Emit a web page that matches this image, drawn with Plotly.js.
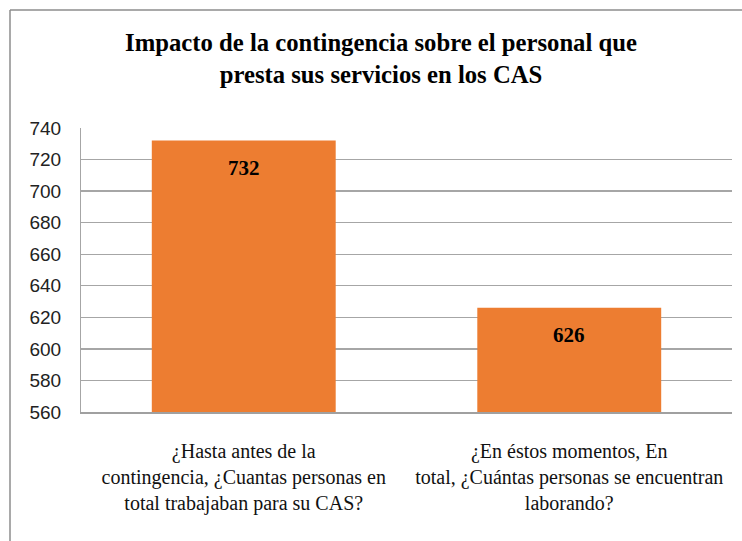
<!DOCTYPE html>
<html>
<head>
<meta charset="utf-8">
<script src="https://cdn.plot.ly/plotly-3.0.1.min.js"></script>
<style>html,body{margin:0;padding:0;background:#fff;}#chart{width:742px;height:541px;}</style>
</head>
<body>
<div id="chart"></div>
<script>
const categories = [
  "¿Hasta antes de la<br>contingencia, ¿Cuantas personas en<br>total trabajaban para su CAS?",
  "¿En éstos momentos, En<br>total, ¿Cuántas personas se encuentran<br>laborando?"
];
const values = [732, 626];
const valueLabels = ["732", "626"];
const chartTitle = "Impacto de la contingencia sobre el personal que<br>presta sus servicios en los CAS";
const yTicks = [560, 580, 600, 620, 640, 660, 680, 700, 720, 740];

const SERIF = "Liberation Serif, Times New Roman, serif";
const SANS = "Liberation Sans, Arial, sans-serif";

const trace = {
  type: "bar",
  x: categories,
  y: values,
  marker: {color: "#ED7D31", line: {width: 0}},
  hoverinfo: "skip"
};

const annotations = categories.map((c, i) => ({
  x: c, y: values[i], xref: "x", yref: "y",
  text: "<b>" + valueLabels[i] + "</b>",
  showarrow: false, yanchor: "middle", yshift: -27,
  font: {family: SERIF, size: 21, color: "#000"}
}));

const frameLeft = (10 - 81) / 651;
const frameTop = (412 - 10) / 284;

const layout = {
  width: 742, height: 541,
  margin: {l: 81, r: 10, t: 128, b: 129},
  paper_bgcolor: "#fff", plot_bgcolor: "#fff",
  font: {family: SERIF, size: 20, color: "#111"},
  showlegend: false,
  bargap: 0.435,
  title: {
    text: "<b>" + chartTitle + "</b>",
    x: 381 / 742, xref: "container", xanchor: "center",
    y: 1 - 51 / 541, yref: "container", yanchor: "top",
    font: {family: SERIF, size: 24.7, color: "#000"}
  },
  xaxis: {
    type: "category",
    showgrid: false, showline: true, linecolor: "#a0a0a0", linewidth: 1.5,
    ticks: "", tickfont: {family: SERIF, size: 20, color: "#111"},
    ticklabelstandoff: 20, fixedrange: true
  },
  yaxis: {
    range: [560, 740], tickvals: yTicks, ticktext: yTicks.map(String),
    showgrid: true, gridcolor: "#a6a6a6", gridwidth: 1.3,
    showline: true, linecolor: "#a6a6a6", linewidth: 1,
    zeroline: false, ticks: "",
    tickfont: {family: SANS, size: 19, color: "#222"},
    ticklabelstandoff: 15, fixedrange: true
  },
  annotations: annotations,
  shapes: [
    {type: "line", xref: "paper", yref: "paper", x0: frameLeft, x1: frameLeft, y0: -1, y1: frameTop,
     line: {color: "#8c8c8c", width: 1.5}, layer: "above"},
    {type: "line", xref: "paper", yref: "paper", x0: frameLeft, x1: 1.5, y0: frameTop, y1: frameTop,
     line: {color: "#8c8c8c", width: 1.5}, layer: "above"}
  ]
};

Plotly.newPlot("chart", [trace], layout, {displayModeBar: false, staticPlot: true});
</script>
</body>
</html>
